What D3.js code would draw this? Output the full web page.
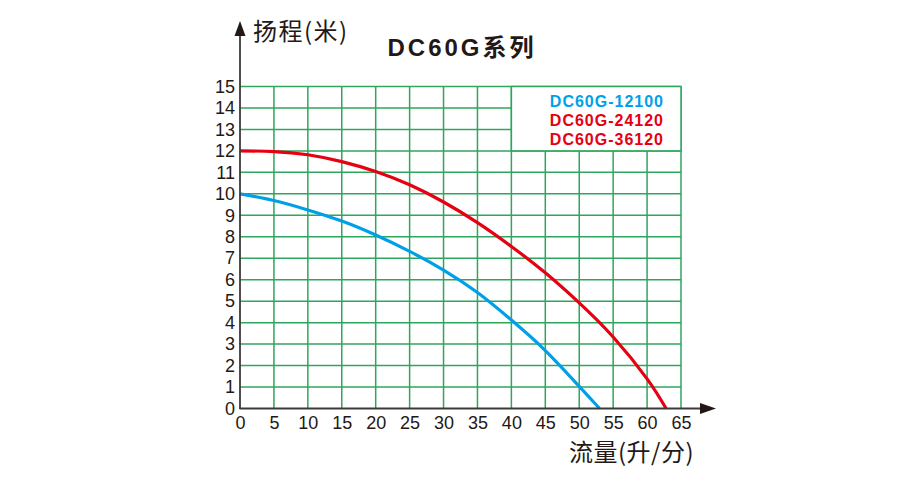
<!DOCTYPE html>
<html><head><meta charset="utf-8">
<script src="https://cdn.jsdelivr.net/npm/d3@7/dist/d3.min.js"></script>
<style>
html,body{margin:0;padding:0;background:#fff;}
svg{display:block;}
</style></head>
<body>
<svg id="chart" width="900" height="489"></svg>
<script>
// ---- data ----
const flowTicks = [0,5,10,15,20,25,30,35,40,45,50,55,60,65];
const headTicks = [0,1,2,3,4,5,6,7,8,9,10,11,12,13,14,15];
const seriesNames = ["DC60G-12100","DC60G-24120","DC60G-36120"];
const redFlow = [0,5,10,15,20,25,30,35,40,45,50,55,60,62.8];
const redHead = [12,11.97,11.82,11.5,11.04,10.42,9.62,8.66,7.55,6.32,4.92,3.33,1.38,0];
const blueFlow = [0,5,10,15,20,25,30,35,40,45,50,53];
const blueHead = [10,9.69,9.25,8.73,8.08,7.32,6.45,5.4,4.12,2.7,1.03,0];
const title = "DC60G系列";
const yTitle = "扬程(米)";
const xTitle = "流量(升/分)";

// ---- drawing ----
const svg = d3.select("#chart");
const x = d3.scaleLinear().domain([0,65]).range([240,681]);
const y = d3.scaleLinear().domain([0,15]).range([408.5,86.5]);
const green = "#2fa65c", axisCol = "#3e3a39", red = "#e60012", blue = "#00a0e9";
const latin = "'Liberation Sans', Arial, 'Noto Sans CJK SC', sans-serif";
const cjk = "'Noto Sans CJK SC', 'Liberation Sans', sans-serif";

const grid = svg.append("g");
grid.selectAll("line.h").data(headTicks.filter(d=>d>0)).join("line")
  .attr("x1", x(0)).attr("x2", x(65)).attr("y1", d=>y(d)).attr("y2", d=>y(d))
  .attr("stroke", green).attr("stroke-width", 1.5);
grid.selectAll("line.v").data(flowTicks.filter(d=>d>0)).join("line")
  .attr("x1", d=>x(d)).attr("x2", d=>x(d)).attr("y1", y(0)).attr("y2", y(15))
  .attr("stroke", green).attr("stroke-width", 1.5);

// legend box
svg.append("rect").attr("x", x(40)).attr("y", y(15)).attr("width", x(65)-x(40)).attr("height", y(12)-y(15))
  .attr("fill", "#fff").attr("stroke", green).attr("stroke-width", 1.5);
const legCols = [blue, red, red];
svg.append("g").selectAll("text").data(seriesNames).join("text")
  .attr("x", 664).attr("y", (d,i)=>101.5 + i*19).attr("dy","0.36em")
  .attr("text-anchor","end").attr("font-family", latin).attr("font-weight","bold")
  .attr("font-size", 16).attr("letter-spacing", 1).attr("fill", (d,i)=>legCols[i]).text(d=>d);

// curves
const line = d3.line().x(d=>x(d[0])).y(d=>y(d[1])).curve(d3.curveNatural);
svg.append("path").datum(blueFlow.map((f,i)=>[f, blueHead[i]])).attr("d", line)
  .attr("fill","none").attr("stroke", blue).attr("stroke-width", 3.2);
svg.append("path").datum(redFlow.map((f,i)=>[f, redHead[i]])).attr("d", line)
  .attr("fill","none").attr("stroke", red).attr("stroke-width", 3.2);

// axes
const yAxis = svg.append("g").attr("transform", `translate(${x(0)},0)`)
  .call(d3.axisLeft(y).tickValues(headTicks).tickSize(0).tickPadding(5).tickFormat(d3.format("d")));
yAxis.select(".domain").remove();
yAxis.selectAll("text").attr("font-family", latin).attr("font-size", 18).attr("fill", "#231815");

const xAxis = svg.append("g").attr("transform", `translate(0,${y(0)})`)
  .call(d3.axisBottom(x).tickValues(flowTicks).tickSize(0).tickPadding(8).tickFormat(d3.format("d")));
xAxis.select(".domain").remove();
xAxis.selectAll("text").attr("font-family", latin).attr("font-size", 18).attr("fill", "#231815");

// axis lines with arrows
svg.append("line").attr("x1", x(0)).attr("x2", x(0)).attr("y1", y(0)+0.5).attr("y2", 32)
  .attr("stroke", axisCol).attr("stroke-width", 1.8);
svg.append("path").attr("d", `M${x(0)},21 L${x(0)-5.5},36 L${x(0)+5.5},36 Z`).attr("fill", "#231815");
svg.append("line").attr("x1", x(0)-0.5).attr("x2", 706).attr("y1", y(0)).attr("y2", y(0))
  .attr("stroke", axisCol).attr("stroke-width", 1.8);
svg.append("path").attr("d", `M716,${y(0)} L700,${y(0)-5.5} L700,${y(0)+5.5} Z`).attr("fill", "#231815");

// titles
svg.append("text").attr("x", 462).attr("y", 56).attr("text-anchor","middle")
  .attr("font-family", latin).attr("font-weight","bold").attr("font-size", 24)
  .attr("letter-spacing", 3).attr("fill", "#231815").text(title);
svg.append("text").attr("x", 253).attr("y", 40)
  .attr("font-family", cjk).attr("font-size", 24).attr("letter-spacing", 1.5)
  .attr("fill", "#231815").text(yTitle);
svg.append("text").attr("x", 569).attr("y", 461)
  .attr("font-family", cjk).attr("font-size", 24).attr("letter-spacing", 0.5)
  .attr("fill", "#231815").text(xTitle);
</script>
</body></html>
